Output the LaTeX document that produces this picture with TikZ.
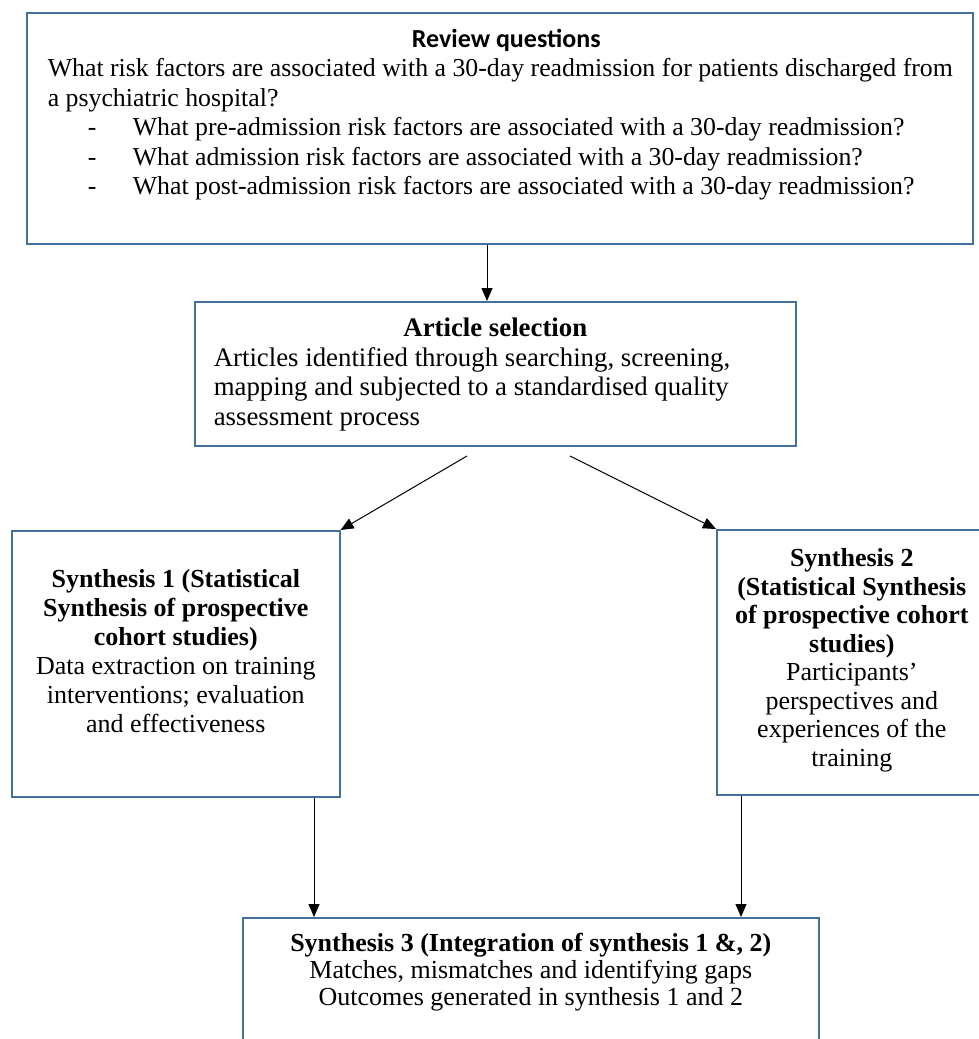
\documentclass[tikz,border=0pt]{standalone}
\usepackage{fontspec}
\setmainfont{Liberation Serif}
\newfontfamily\headfont{Carlito}
\usetikzlibrary{positioning}
\usetikzlibrary{arrows.meta}
\definecolor{boxblue}{HTML}{41719C}
% text block of a box: width, height, space above, content
\newcommand{\boxtext}[4]{\parbox[c][#2][t]{#1}{\vspace*{#3}#4}}
\newcommand{\riskq}[1]{\makebox[85pt][l]{\hspace*{40pt}-}#1}

\begin{document}
\begin{tikzpicture}[x=1pt, y=-1pt,
        box/.style={draw=boxblue, line width=1.6pt, anchor=north west, inner sep=0pt},
        arrow/.style={-{Triangle[length=13pt, width=11pt]}, line width=1pt}]
        \useasboundingbox (0, 0) rectangle (979, 1039);
        % review questions
        \node[box] (rq) at (26, 12) {\boxtext{946pt}{231pt}{16pt}{%
            {\centering\fontsize{26}{29}\headfont\bfseries\hspace*{13pt}Review questions\par}
            \fontsize{25.8}{29.5}\selectfont\leftskip=21pt
            What risk factors are associated with a 30-day readmission for patients discharged from\\
            a psychiatric hospital?\\
            \riskq{What pre-admission risk factors are associated with a 30-day readmission?}\\
            \riskq{What admission risk factors are associated with a 30-day readmission?}\\
            \riskq{What post-admission risk factors are associated with a 30-day readmission?}}};
        % article selection
        \node[box] (sel) at (194, 301) {\boxtext{601pt}{144pt}{16pt}{%
            \fontsize{26.8}{29.7}\selectfont
            {\centering\bfseries Article selection\par}
            \leftskip=19pt
            Articles identified through searching, screening,\\
            mapping and subjected to a standardised quality\\
            assessment process}};
        % syntheses
        \node[box] (s1) at (11, 530) {\boxtext{328pt}{266pt}{39pt}{%
            \centering\fontsize{26}{29}\selectfont
            {\bfseries Synthesis 1 (Statistical\\ Synthesis of prospective\\ cohort studies)\\}
            Data extraction on training\\ interventions; evaluation\\ and effectiveness}};
        \node[box] (s2) at (716, 529) {\boxtext{270pt}{265pt}{19pt}{%
            \centering\fontsize{26}{28.5}\selectfont
            {\bfseries Synthesis 2\\ (Statistical Synthesis\\ of prospective cohort\\ studies)\\}
            Participants'\\ perspectives and\\ experiences of the\\ training}};
        \node[box] (s3) at (242, 917) {\boxtext{576pt}{140pt}{15pt}{%
            \centering\fontsize{26}{27}\selectfont
            {\bfseries Synthesis 3 (Integration of synthesis 1 \&, 2)\\}
            Matches, mismatches and identifying gaps\\
            Outcomes generated in synthesis 1 and 2}};
        % connectors
        \coordinate (c0) at (487, 0);
        \coordinate (c1) at (314, 0);
        \coordinate (c2) at (741, 0);
        \coordinate (dl) at (467, 456);
        \coordinate (dr) at (570, 456);
        \draw[arrow] (rq.south -| c0) -- (sel.north -| c0);
        \draw[arrow] (dl) -- (s1.north east);
        \draw[arrow] (dr) -- (s2.north west);
        \draw[arrow] (s1.south -| c1) -- (s3.north -| c1);
        \draw[arrow] (s2.south -| c2) -- (s3.north -| c2);
    \end{tikzpicture}
\end{document}
